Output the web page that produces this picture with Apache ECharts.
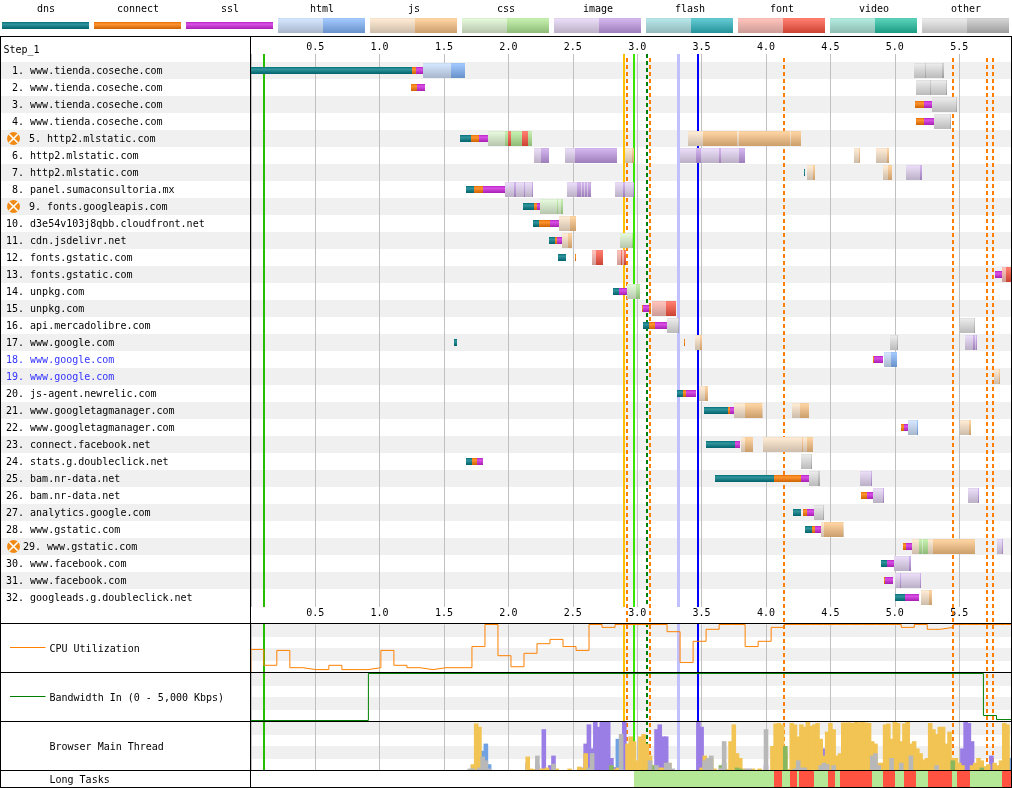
<!DOCTYPE html>
<html>
<head>
<meta charset="utf-8">
<title>Waterfall</title>
<style>html,body{margin:0;padding:0;background:#fff}#c{width:1012px;height:788px}</style>
<script src="https://cdn.jsdelivr.net/npm/echarts@6/dist/echarts.min.js"></script>
</head>
<body>
<div id="c"></div>
<script>
// ---------- legend / requests ----------
const requestTypes = ['dns','connect','ssl','html','js','css','image','flash','font','video','other'];
const rowHosts = ['www.tienda.coseche.com','www.tienda.coseche.com','www.tienda.coseche.com','www.tienda.coseche.com','http2.mlstatic.com','http2.mlstatic.com','http2.mlstatic.com','panel.sumaconsultoria.mx','fonts.googleapis.com','d3e54v103j8qbb.cloudfront.net','cdn.jsdelivr.net','fonts.gstatic.com','fonts.gstatic.com','unpkg.com','unpkg.com','api.mercadolibre.com','www.google.com','www.google.com','www.google.com','js-agent.newrelic.com','www.googletagmanager.com','www.googletagmanager.com','connect.facebook.net','stats.g.doubleclick.net','bam.nr-data.net','bam.nr-data.net','analytics.google.com','www.gstatic.com','www.gstatic.com','www.facebook.com','www.facebook.com','googleads.g.doubleclick.net'];
const errorRows = [5,9,29];
const blueRows = [18,19];
const stepLabel = 'Step_1';
const panelLabels = ['CPU Utilization','Bandwidth In (0 - 5,000 Kbps)','Browser Main Thread','Long Tasks'];

// ---------- waterfall segments: [request number, start s, end s] ----------
const dnsBars = [[1,0,1.252],[5,1.624,1.710],[7,4.295,4.303],[8,1.671,1.733],[9,2.113,2.199],[10,2.191,2.238],[11,2.315,2.362],[12,2.385,2.447],[14,2.812,2.859],[16,3.045,3.092],[17,1.578,1.601],[20,3.309,3.356],[21,3.518,3.705],[23,3.534,3.759],[24,1.671,1.718],[25,3.604,4.062],[27,4.209,4.272],[28,4.303,4.357],[30,4.893,4.939],[32,5.001,5.079]];
const connectBars = [[1,1.252,1.283],[2,1.244,1.290],[3,5.157,5.227],[4,5.165,5.227],[5,1.710,1.772],[8,1.733,1.803],[9,2.199,2.222],[10,2.238,2.323],[11,2.362,2.377],[12,2.517,2.525],[15,3.037,3.045],[15,3.092,3.107],[16,3.092,3.138],[17,3.363,3.371],[18,4.831,4.839],[20,3.356,3.379],[21,3.705,3.720],[22,5.048,5.071],[24,1.718,1.756],[25,4.062,4.272],[26,4.738,4.784],[27,4.287,4.318],[28,4.357,4.380],[29,5.064,5.087],[31,4.916,4.924]];
const sslBars = [[1,1.283,1.345],[2,1.290,1.352],[3,5.227,5.289],[4,5.227,5.312],[5,1.772,1.849],[8,1.803,1.981],[9,2.222,2.253],[10,2.323,2.401],[11,2.377,2.424],[13,5.778,5.833],[14,2.859,2.921],[15,3.045,3.092],[16,3.138,3.239],[18,4.839,4.908],[20,3.379,3.456],[21,3.720,3.759],[22,5.071,5.102],[23,3.759,3.798],[24,1.756,1.803],[25,4.272,4.341],[26,4.784,4.839],[27,4.318,4.373],[28,4.380,4.435],[29,5.087,5.142],[30,4.939,4.994],[31,4.924,4.986],[32,5.079,5.188]];
const htmlWait = [[1,1.337,1.554],[18,4.916,4.970],[22,5.102,5.173]];
const htmlRecv = [[1,1.554,1.663],[18,4.970,5.017],[22,5.173,5.180]];
const jsWait = [[5,3.394,3.511],[5,3.775,3.790],[5,4.186,4.194],[6,2.905,2.960],[6,4.683,4.722],[6,4.854,4.939],[7,4.318,4.365],[7,4.908,4.947],[10,2.393,2.478],[11,2.416,2.463],[17,3.449,3.487],[19,5.770,5.809],[20,3.480,3.526],[21,3.751,3.837],[21,3.969,3.977],[21,4.201,4.264],[22,5.506,5.576],[23,3.806,3.837],[23,3.977,4.279],[23,4.287,4.318],[28,4.427,4.450],[28,4.598,4.606],[29,5.134,5.188],[29,5.258,5.297],[32,5.204,5.266]];
const jsRecv = [[5,3.511,3.775],[5,3.790,4.186],[5,4.194,4.272],[6,2.960,2.975],[6,4.722,4.730],[6,4.939,4.955],[7,4.365,4.380],[7,4.947,4.978],[10,2.478,2.525],[11,2.463,2.494],[17,3.487,3.503],[19,5.809,5.817],[20,3.526,3.550],[21,3.837,3.969],[21,4.264,4.334],[22,5.576,5.592],[23,3.837,3.899],[23,4.279,4.287],[23,4.318,4.365],[28,4.450,4.598],[29,5.297,5.623],[32,5.266,5.289]];
const cssWait = [[5,1.842,1.974],[9,2.245,2.377],[9,2.385,2.409],[11,2.866,2.960],[14,2.921,2.991],[29,5.211,5.219]];
const cssRecv = [[5,1.974,1.997],[5,2.020,2.106],[5,2.152,2.183],[9,2.377,2.385],[9,2.409,2.424],[11,2.960,2.967],[14,2.991,3.022],[29,5.188,5.211],[29,5.219,5.258]];
const imageWait = [[6,2.199,2.253],[6,2.439,2.517],[6,3.332,3.456],[6,3.495,3.635],[6,3.651,3.790],[7,5.087,5.196],[8,1.974,2.043],[8,2.059,2.121],[8,2.129,2.183],[8,2.455,2.533],[8,2.564,2.572],[8,2.587,2.595],[8,2.610,2.618],[8,2.828,2.890],[8,2.905,2.967],[17,5.545,5.607],[17,5.623,5.631],[25,4.730,4.815],[26,4.831,4.908],[26,5.569,5.646],[29,5.794,5.833],[30,4.994,5.110],[31,5.001,5.040],[31,5.048,5.196]];
const imageRecv = [[6,2.253,2.315],[6,2.517,2.843],[6,3.456,3.495],[6,3.635,3.651],[6,3.790,3.837],[7,5.196,5.211],[8,2.043,2.059],[8,2.121,2.129],[8,2.183,2.191],[8,2.533,2.564],[8,2.572,2.587],[8,2.595,2.610],[8,2.618,2.641],[8,2.890,2.905],[8,2.967,2.975],[17,5.607,5.623],[17,5.631,5.638],[25,4.815,4.823],[26,4.908,4.916],[26,5.646,5.654],[29,5.833,5.840],[30,5.110,5.126],[31,5.040,5.048],[31,5.196,5.204]];
const fontWait = [[12,2.649,2.680],[12,2.843,2.874],[12,2.882,2.897],[13,5.833,5.864],[15,3.115,3.224]];
const fontRecv = [[5,1.997,2.020],[5,2.106,2.152],[12,2.680,2.734],[12,2.874,2.882],[12,2.897,2.913],[13,5.864,5.903],[15,3.224,3.301]];
const otherWait = [[1,5.149,5.235],[1,5.242,5.370],[2,5.165,5.274],[2,5.281,5.397],[3,5.289,5.475],[4,5.305,5.429],[16,3.232,3.317],[16,5.506,5.615],[17,4.963,5.017],[24,4.272,4.349],[25,4.334,4.404],[27,4.373,4.443]];
const otherRecv = [[1,5.235,5.242],[1,5.370,5.382],[2,5.274,5.281],[2,5.397,5.405],[3,5.475,5.483],[4,5.429,5.436],[16,3.317,3.325],[16,5.615,5.623],[17,5.017,5.025],[24,4.349,4.357],[25,4.404,4.419],[27,4.443,4.450]];

// ---------- page events, seconds ----------
const startRenderTimes = [0.103];
const domInteractiveTimes = [2.897];
const contentfulPaintTimes = [2.975];
const domContentLoadedTimes = [3.076];
const largestPaintTimes = [3.321];
const onLoadTimes = [3.472];
const layoutShiftTimes = [2.921,3.099,4.140,5.452,5.716,5.762];

// ---------- CPU / bandwidth ----------
const cpuTimes = [0,0,0.101,0.202,0.303,0.404,0.505,0.606,0.707,0.808,0.909,1.01,1.111,1.212,1.313,1.414,1.515,1.616,1.717,1.818,1.919,2.02,2.121,2.222,2.323,2.424,2.525,2.626,2.727,2.828,2.929,3.03,3.131,3.232,3.333,3.434,3.535,3.636,3.737,3.838,3.939,4.04,4.141,4.242,4.343,4.444,4.545,4.646,4.747,4.848,4.949,5.05,5.151,5.252,5.353,5.454,5.555,5.656,5.757,5.858,5.903];
const cpuValues = [0,48,15,46,10,6,6,15,6,6,10,46,15,10,6,10,10,10,54,100,35,12,40,60,69,54,46,100,94,100,100,100,100,85,21,65,90,100,100,54,65,94,100,100,100,100,100,100,100,100,100,94,100,90,94,100,100,100,100,100,100];
const bandwidthTimes = [0,0.913,5.688,5.79,5.903];
const bandwidthKbps = [0,5000,530,100,100];

// ---------- main-thread activity, percent of each bin ----------
const threadTimes = [1.65,1.675,1.7,1.725,1.75,1.775,1.8,1.825,1.85,1.875,
1.9,1.925,1.95,1.975,2,2.025,2.05,2.075,2.1,2.125,
2.15,2.175,2.2,2.225,2.25,2.275,2.3,2.325,2.35,2.375,
2.4,2.425,2.45,2.475,2.5,2.525,2.55,2.575,2.6,2.625,
2.65,2.675,2.7,2.725,2.75,2.775,2.8,2.825,2.85,2.875,
2.9,2.925,2.95,2.975,3,3.025,3.05,3.075,3.1,3.125,
3.15,3.175,3.2,3.225,3.25,3.275,3.3,3.325,3.35,3.375,
3.4,3.425,3.45,3.475,3.5,3.525,3.55,3.575,3.6,3.625,
3.65,3.675,3.7,3.725,3.75,3.775,3.8,3.825,3.85,3.875,
3.9,3.925,3.95,3.975,4,4.025,4.05,4.075,4.1,4.125,
4.15,4.175,4.2,4.225,4.25,4.275,4.3,4.325,4.35,4.375,
4.4,4.425,4.45,4.475,4.5,4.525,4.55,4.575,4.6,4.625,
4.65,4.675,4.7,4.725,4.75,4.775,4.8,4.825,4.85,4.875,
4.9,4.925,4.95,4.975,5,5.025,5.05,5.075,5.1,5.125,
5.15,5.175,5.2,5.225,5.25,5.275,5.3,5.325,5.35,5.375,
5.4,5.425,5.45,5.475,5.5,5.525,5.55,5.575,5.6,5.625,
5.65,5.675,5.7,5.725,5.75,5.775,5.8,5.825,5.85,5.875,5.9];
const threadLayout = [0,0,0,2,0,0,0,0,0,0,
0,0,0,0,0,0,0,0,0,0,
15,0,0,10,0,85,0,10,30,0,
0,0,0,0,0,0,0,5,55,95,
45,100,90,100,100,100,25,6,0,0,
100,15,0,5,15,0,0,8,5,0,
85,95,70,70,0,0,0,0,0,0,
0,0,0,100,90,20,0,0,0,0,
0,0,0,0,0,0,0,0,0,0,
0,0,0,0,10,0,0,0,0,0,
0,0,0,0,0,0,0,0,0,0,
0,0,45,0,0,0,10,0,0,0,
0,0,0,0,0,0,0,0,0,0,
0,0,0,0,0,0,0,0,0,0,
0,0,0,8,0,0,0,0,0,0,
35,0,0,0,0,45,100,98,60,0,
0,0,0,0,30,0,0,0,0,0,0];
const threadParse = [0,0,0,10,3,5,40,55,12,0,
0,0,0,0,0,0,0,0,0,0,
0,0,0,0,0,0,0,0,0,0,
0,0,0,0,0,0,0,0,0,0,
0,0,0,0,0,0,0,0,65,10,
0,0,0,5,0,0,0,0,5,0,
0,0,0,0,0,0,0,0,0,0,
0,0,0,0,0,0,0,0,0,0,
0,0,0,0,0,0,0,0,0,0,
0,0,0,0,0,0,0,0,0,0,
0,0,0,0,0,0,0,0,0,0,
0,0,0,0,0,0,0,0,0,0,
0,0,0,0,0,0,0,0,0,0,
0,0,0,0,0,0,0,0,0,0,
0,0,3,0,0,0,0,0,0,0,
0,0,0,0,0,0,0,0,0,10,
0,0,0,3,0,0,0,0,0,0,25];
const threadScript = [0,0,0,12,97,90,25,0,0,0,
0,0,0,0,0,0,0,0,0,0,
28,3,2,4,3,3,5,0,0,3,
0,0,0,3,0,0,7,4,35,0,
0,0,0,0,0,0,0,2,5,0,
0,55,70,60,20,70,75,55,30,10,
0,5,5,0,15,0,0,0,0,0,
0,0,0,0,5,30,25,25,3,0,
0,5,2,60,95,35,25,3,0,0,
3,0,3,0,3,0,50,97,98,95,
35,2,98,95,70,95,90,100,92,95,
98,65,30,80,98,85,30,35,99,99,
99,98,100,99,100,99,98,60,55,15,
15,95,97,65,100,98,60,97,100,55,
60,45,35,22,25,98,85,75,90,90,
55,80,25,25,15,10,0,0,10,15,
25,20,8,12,0,15,10,20,98,95,0];
const threadPaint = [0,0,0,0,0,0,0,0,0,0,
0,0,0,0,0,0,0,0,0,0,
0,0,0,0,0,0,0,0,0,0,
0,0,0,0,0,0,0,0,0,0,
0,0,0,0,0,0,10,0,0,0,
0,0,0,0,0,0,0,0,5,10,
0,0,0,15,0,0,0,0,0,0,
0,0,0,0,0,0,10,0,0,0,
10,15,0,0,0,5,3,0,0,0,
0,0,0,0,0,0,0,0,0,0,
50,0,0,0,0,0,0,0,0,0,
0,0,0,0,0,0,0,0,0,0,
0,0,0,0,0,0,0,0,0,0,
0,0,0,0,0,0,0,0,0,0,
0,0,0,0,0,0,0,0,0,0,
0,0,20,0,0,0,0,0,0,0,
0,5,0,0,0,0,0,0,0,0,0];
const threadOther = [0,0,3,3,0,5,28,20,3,0,
0,0,0,0,0,0,0,0,0,0,
0,0,0,30,0,0,0,0,13,0,
0,0,0,0,0,0,0,0,0,5,
35,0,0,0,0,0,0,0,0,75,
0,0,0,0,0,0,0,0,20,0,
10,0,0,15,15,3,0,0,0,0,
0,0,0,0,0,20,25,30,0,0,
5,60,0,0,0,0,0,0,3,3,
0,0,0,0,85,0,0,0,0,0,
0,0,0,3,20,5,5,0,0,0,
0,10,15,12,0,10,0,0,0,0,
0,0,0,0,0,0,0,30,35,10,
0,0,0,25,0,0,15,0,0,30,
0,0,0,0,0,0,0,10,0,0,
0,0,0,0,0,0,0,0,0,0,
0,0,0,0,0,0,0,0,0,0,0];

// ---------- long tasks [start, end] seconds ----------
const idleSpans = [[0,2.975]];
const shortTaskSpans = [[2.975,4.062],[4.124,4.186],[4.241,4.257],[4.373,4.481],[4.536,4.575],[4.823,4.908],[5.001,5.071],[5.165,5.258],[5.444,5.483],[5.584,5.833]];
const longTaskSpans = [[4.062,4.124],[4.186,4.241],[4.257,4.373],[4.481,4.536],[4.575,4.823],[4.908,5.001],[5.071,5.165],[5.258,5.444],[5.483,5.584],[5.833,5.903]];
const timeMax = 5.903;

// ---------- styling ----------
const MONO = '"DejaVu Sans Mono", monospace';
const BASE = {dns:[0,123,132],connect:[255,123,0],ssl:[207,37,223],html:[130,181,252],js:[254,197,132],css:[178,234,148],image:[196,156,232],flash:[45,183,193],font:[255,82,62],video:[33,194,162],other:[196,196,196]};
const mix = (c,t)=>c.map(v=>Math.round(v+(255-v)*t));
const mul = (c,t)=>c.map(v=>Math.round(v*t));
const css = c=>`rgb(${c[0]},${c[1]},${c[2]})`;
const grad = stops=>({type:'linear',x:0,y:0,x2:0,y2:1,colorStops:stops.map(s=>({offset:s[0],color:css(s[1])}))});
const thinFill = k=>{const b=BASE[k];return grad([[0,mul(b,.9)],[.3,mix(b,.2)],[1,mul(b,.8)]]);};
const recvFill = k=>{const b=BASE[k];return grad([[0,mul(mix(b,.25),.95)],[.08,mix(b,.25)],[1,mul(b,.8)]]);};
const waitFill = k=>{const b=mix(BASE[k],.65);return grad([[0,mul(b,.93)],[.08,b],[1,mul(b,.8)]]);};

function segmentSeries(data, fill, h, z){
  return {type:'custom',xAxisIndex:0,yAxisIndex:0,z,silent:true,clip:false,encode:{x:[1,2],y:0},data,
    renderItem(p,api){
      const yc=api.coord([0,api.value(0)-.5])[1];
      const x0=Math.round(api.coord([api.value(1),0])[0]);
      const x1=Math.round(api.coord([api.value(2),0])[0]);
      return {type:'rect',shape:{x:x0,y:yc-h/2,width:Math.max(1,x1-x0),height:h},style:{fill}};
    }};
}
function eventSeries(times,color,width,dash,kind){
  return {type:'custom',xAxisIndex:0,yAxisIndex:0,z:3,silent:true,clip:false,encode:{x:0},data:times.map(t=>[t]),
    renderItem(p,api){
      let x=Math.round(api.coord([api.value(0),0])[0]);
      if(width%2) x=Math.floor(api.coord([api.value(0),0])[0])+.5;
      const spans = kind==='through' ? [[58,788]] : [[54,607],[623,770]];
      return {type:'group',children:spans.map(s=>({type:'line',shape:{x1:x,y1:s[0],x2:x,y2:s[1]},
        style:{stroke:color,lineWidth:width,lineDash:dash||null}}))};
    }};
}
function panelBands(xi,yi){
  return {type:'custom',xAxisIndex:xi,yAxisIndex:yi,z:1,silent:true,clip:false,encode:{y:[0,1]},data:[[0,13],[24,37]],
    renderItem(p,api){
      const a=api.coord([0,api.value(0)]),b=api.coord([timeMax,api.value(1)]);
      return {type:'rect',shape:{x:251,y:Math.floor(a[1]),width:760,height:Math.floor(b[1])-Math.floor(a[1])},style:{fill:'#f0f0f0'}};
    }};
}
function spanSeries(data,fill,z){
  return {type:'custom',xAxisIndex:5,yAxisIndex:4,z,silent:true,clip:false,encode:{x:[0,1]},data,
    renderItem(p,api){
      const x0=Math.round(api.coord([api.value(0),0])[0]),x1=Math.round(api.coord([api.value(1),0])[0]);
      const t=api.coord([0,1])[1],b=api.coord([0,0])[1];
      return {type:'rect',shape:{x:x0,y:t,width:x1-x0,height:b-t},style:{fill}};
    }};
}
const threadBar=(name,values,color)=>({name,type:'bar',xAxisIndex:4,yAxisIndex:3,stack:'thread',z:5,silent:true,barWidth:4.6,
  itemStyle:{color},data:threadTimes.map((t,i)=>[t,values[i]])});

const timeLabel = v=>{const r=Math.round(v*10)/10;return (v>0 && Math.abs(v-r)<1e-6 && Math.abs(r*2-Math.round(r*2))<1e-6)?r.toFixed(1):'';};
const hiddenX = (gi,split)=>({type:'value',gridIndex:gi,min:0,max:timeMax,interval:.5,z:2,axisLine:{show:false},axisTick:{show:false},axisLabel:{show:false},
  splitLine:{show:split,lineStyle:{color:'#c0c0c0',width:1}}});
const hiddenY = (gi,min,max,inverse)=>({type:'value',gridIndex:gi,min,max,inverse:!!inverse,show:false,splitLine:{show:false}});

const frameY=[36.5,623.5,672.5,721.5,770.5,787.5];
const frameLine=(x1,y1,x2,y2,stroke)=>({type:'line',z:60,silent:true,shape:{x1,y1,x2,y2},style:{stroke:stroke||'#000',lineWidth:1}});
const plainText=(text,x,y)=>({type:'text',z:61,silent:true,x,y,style:{text,fontFamily:MONO,fontSize:10,fill:'#000',verticalAlign:'middle',align:'left'}});

const option={
  animation:false,
  backgroundColor:'#fff',
  textStyle:{fontFamily:MONO},
  grid:[
    {left:250.8,width:760.3,top:54,height:553},
    {left:250.8,width:760.3,top:624.5,height:48},
    {left:250.8,width:760.3,top:673,height:48},
    {left:250.8,width:760.3,top:722,height:48},
    {left:250.8,width:760.3,top:771,height:16},
    {left:0,width:1012,top:15,height:18}
  ],
  xAxis:[
    {type:'value',gridIndex:0,position:'top',min:0,max:timeMax,interval:.5,z:2,axisLine:{show:false},axisTick:{show:false},
      axisLabel:{margin:2,fontFamily:MONO,fontSize:10,color:'#000',formatter:timeLabel,showMaxLabel:false},splitLine:{show:true,lineStyle:{color:'#c0c0c0',width:1}}},
    {type:'value',gridIndex:0,position:'bottom',min:0,max:timeMax,interval:.5,z:2,axisLine:{show:false},axisTick:{show:false},
      axisLabel:{margin:1,fontFamily:MONO,fontSize:10,color:'#000',formatter:timeLabel,showMaxLabel:false},splitLine:{show:false}},
    hiddenX(1,true),hiddenX(2,true),hiddenX(3,true),hiddenX(4,false),
    {type:'category',gridIndex:5,position:'top',data:requestTypes,boundaryGap:true,axisLine:{show:false},axisTick:{show:false},
      axisLabel:{margin:1,fontFamily:MONO,fontSize:10,color:'#000',interval:0},splitLine:{show:false}}
  ],
  yAxis:[
    hiddenY(0,-8/17,545/17,true),
    hiddenY(1,0,100),
    hiddenY(2,-53,5053),
    hiddenY(3,0,100),
    hiddenY(4,0,1),
    hiddenY(5,0,1),
    hiddenY(1,0,48,true),
    hiddenY(2,0,48,true),
    hiddenY(3,0,48,true)
  ],
  graphic:{elements:[
    ...frameY.map(y=>frameLine(0,y,1012,y)),
    frameLine(.5,36.5,.5,787.5),frameLine(1011.5,36.5,1011.5,787.5),frameLine(250.5,36.5,250.5,787.5),
    plainText(stepLabel,3.5,50),
    frameLine(10,647.5,45.5,647.5,'#ff8000'),
    frameLine(10,696.5,45.5,696.5,'#008000'),
    plainText(panelLabels[0],49.5,649),
    plainText(panelLabels[1],49.5,698),
    plainText(panelLabels[2],49.5,747),
    plainText(panelLabels[3],49.5,780)
  ]},
  series:[
    // legend swatches
    {type:'custom',xAxisIndex:6,yAxisIndex:5,z:4,silent:true,clip:false,encode:{x:0},data:requestTypes.map((k,i)=>[i]),
      renderItem(p,api){
        const i=api.value(0),k=requestTypes[i],cx=api.coord([i,0])[0],x=Math.round(cx-44);
        if(i<3) return {type:'rect',shape:{x,y:22,width:87,height:7},style:{fill:thinFill(k)}};
        return {type:'group',children:[
          {type:'rect',shape:{x,y:18,width:45,height:15},style:{fill:waitFill(k)}},
          {type:'rect',shape:{x:x+45,y:18,width:42,height:15},style:{fill:recvFill(k)}}]};
      }},
    // row stripes
    {type:'custom',xAxisIndex:0,yAxisIndex:0,z:1,silent:true,clip:false,encode:{y:0},data:rowHosts.map((h,i)=>[i]).filter(r=>r[0]%2===0),
      renderItem(p,api){
        const t=api.coord([0,api.value(0)])[1];
        return {type:'rect',shape:{x:0,y:t,width:1012,height:17},style:{fill:'#f0f0f0'}};
      }},
    // row labels
    {type:'custom',xAxisIndex:0,yAxisIndex:0,z:6,silent:true,clip:false,encode:{y:0},data:rowHosts.map((h,i)=>[i]),
      renderItem(p,api){
        const i=api.value(0),n=i+1,yc=api.coord([0,i+.5])[1]+1;
        const text=String(n).padStart(2,' ')+'. '+rowHosts[i];
        return {type:'text',x:errorRows.includes(n)?23:6,y:yc,style:{text,fontFamily:MONO,fontSize:10,fill:blueRows.includes(n)?'#3333ff':'#000',verticalAlign:'middle',align:'left'}};
      }},
    // error icons
    {type:'custom',xAxisIndex:0,yAxisIndex:0,z:6,silent:true,clip:false,encode:{y:0},data:errorRows.map(n=>[n]),
      renderItem(p,api){
        const yc=api.coord([0,api.value(0)-.5])[1];
        const cross={stroke:'#fff',lineWidth:1.6};
        return {type:'group',x:13.5,y:yc,children:[
          {type:'circle',shape:{cx:0,cy:0,r:6.5},style:{fill:'#f08a12'}},
          {type:'line',shape:{x1:-4.5,y1:-4.5,x2:4.5,y2:4.5},style:cross},
          {type:'line',shape:{x1:-4.5,y1:4.5,x2:4.5,y2:-4.5},style:cross}]};
      }},
    // panel stripes
    panelBands(2,6),panelBands(3,7),panelBands(4,8),
    // page events
    eventSeries(startRenderTimes,'#28bc00',2),
    eventSeries(domInteractiveTimes,'#ffc000',2),
    eventSeries(layoutShiftTimes,'#ff8000',2,[4,3],'through'),
    eventSeries(contentfulPaintTimes,'#39e600',2),
    eventSeries(domContentLoadedTimes,'#008000',2,[4,3]),
    eventSeries(largestPaintTimes,'#c0c0ff',3),
    eventSeries(onLoadTimes,'#0000ff',2),
    // waterfall
    segmentSeries(dnsBars,thinFill('dns'),7,5),
    segmentSeries(connectBars,thinFill('connect'),7,5),
    segmentSeries(sslBars,thinFill('ssl'),7,5),
    segmentSeries(htmlWait,waitFill('html'),15,5),
    segmentSeries(htmlRecv,recvFill('html'),15,5),
    segmentSeries(jsWait,waitFill('js'),15,5),
    segmentSeries(jsRecv,recvFill('js'),15,5),
    segmentSeries(cssWait,waitFill('css'),15,5),
    segmentSeries(cssRecv,recvFill('css'),15,5),
    segmentSeries(imageWait,waitFill('image'),15,5),
    segmentSeries(imageRecv,recvFill('image'),15,5),
    segmentSeries(fontWait,waitFill('font'),15,5),
    segmentSeries(fontRecv,recvFill('font'),15,5),
    segmentSeries(otherWait,waitFill('other'),15,5),
    segmentSeries(otherRecv,recvFill('other'),15,5),
    // CPU and bandwidth
    {name:'CPU Utilization',type:'line',xAxisIndex:2,yAxisIndex:1,step:'end',z:5,silent:true,clip:false,symbol:'none',
      lineStyle:{color:'#ff8000',width:1},data:cpuTimes.map((t,i)=>[t,cpuValues[i]])},
    {name:'Bandwidth In',type:'line',xAxisIndex:3,yAxisIndex:2,step:'end',z:5,silent:true,clip:false,symbol:'none',
      lineStyle:{color:'#008000',width:1},data:bandwidthTimes.map((t,i)=>[t,bandwidthKbps[i]])},
    // main thread
    threadBar('Layout',threadLayout,'#9a7ee6'),
    threadBar('Parse',threadParse,'#70a2e3'),
    threadBar('Script',threadScript,'#f1c453'),
    threadBar('Paint',threadPaint,'#88b75e'),
    threadBar('Other',threadOther,'#b8b8b8'),
    // long tasks
    spanSeries(idleSpans,'#fff',6),
    spanSeries(shortTaskSpans,'#b4e896',6),
    spanSeries(longTaskSpans,'#ff5240',6)
  ]
};
const chart=echarts.init(document.getElementById('c'),null,{renderer:'canvas',width:1012,height:788});
chart.setOption(option);
</script>
</body>
</html>
